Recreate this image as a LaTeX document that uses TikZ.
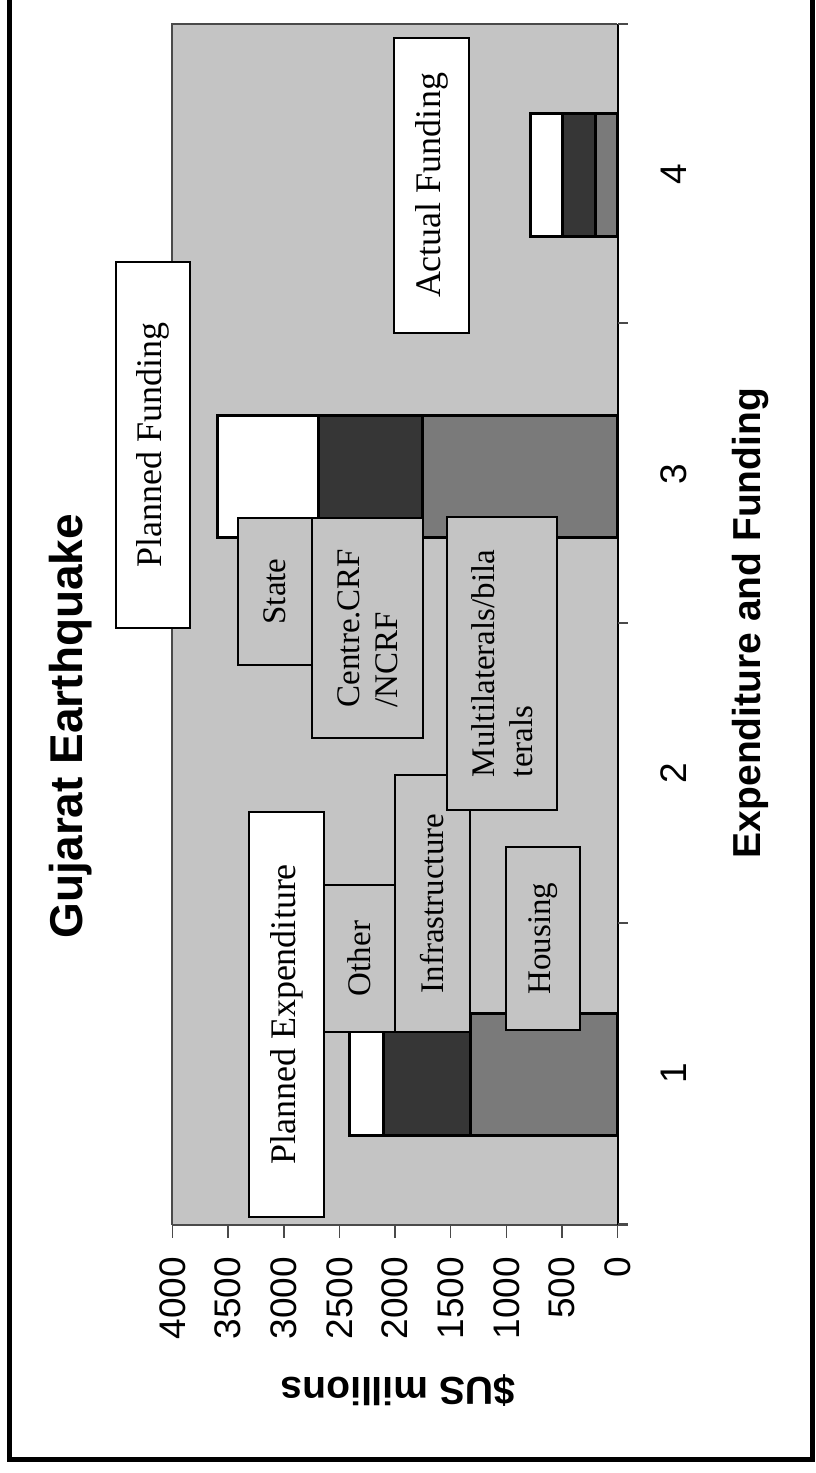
\documentclass[tikz,border=0pt]{standalone}
\usepackage{fontspec}
\setmainfont{Liberation Serif}
\newfontfamily\arialf{Liberation Sans}
\definecolor{plotbg}{HTML}{C4C4C4}
\definecolor{barmid}{HTML}{7A7A7A}
\definecolor{bardark}{HTML}{363636}
\definecolor{axisgray}{HTML}{4A4A4A}
\begin{document}
\begin{tikzpicture}[x=1pt,y=-1pt,
  lbl/.style={draw=black, line width=2.5pt, rotate=90, inner sep=0pt, align=left,
              font=\fontsize{33}{38}\selectfont, fill=plotbg},
  wlbl/.style={lbl, fill=white, font=\fontsize{36}{40}\selectfont},
  barline/.style={draw=black, line width=3pt},
  ticklbl/.style={rotate=90, inner sep=0pt, font=\arialf\fontsize{37}{40}\selectfont},
  axtitle/.style={rotate=90, inner sep=0pt, font=\arialf\bfseries\fontsize{39}{44}\selectfont},
  bigtitle/.style={rotate=90, inner sep=0pt, font=\arialf\bfseries\fontsize{46}{50}\selectfont}
]
\useasboundingbox (0,0) rectangle (816,1473);
% outer frame
\draw[line width=5pt] (9,-20) rectangle (812,1459);

% plot area
\fill[plotbg] (172,24) rectangle (617,1225);
\draw[axisgray, line width=2pt] (617,24) -- (172,24) -- (172,1225);
% value axis
\draw[axisgray, line width=2.5pt] (172,1225) -- (628,1225);
\foreach \vx in {172.5,228.1,283.8,339.4,395,450.6,506.3,561.9,617.5}
  \draw[axisgray, line width=1.5pt] (\vx,1225) -- (\vx,1238);
% category axis
\draw[black, line width=2pt] (617.5,24) -- (617.5,1225);
\foreach \cy in {24,323,623,923,1224}
  \draw[axisgray, line width=1.5pt] (617.5,\cy) -- (628,\cy);

% tick labels
\foreach \vx/\vl in {172.5/4000,228.1/3500,283.8/3000,339.4/2500,395/2000,450.6/1500,506.3/1000,561.9/500,617.5/0}
  \node[ticklbl, anchor=east] (t\vl) at (\vx,1257) {\vl};
\node[ticklbl] (c1) at (674,1073) {1};
\node[ticklbl] (c2) at (674,773) {2};
\node[ticklbl] (c3) at (674,474) {3};
\node[ticklbl] (c4) at (674,174) {4};

% axis titles
\node[axtitle] (xt) at (750,623) {Expenditure and Funding};
\node[rotate=180, inner sep=0pt, font=\arialf\bfseries\fontsize{39}{44}\selectfont] (yt) at (398,1391) {\$US millions};
\node[bigtitle] (title) at (71,726) {Gujarat Earthquake};

% bar 1
\fill[white] (349,1013) rectangle (383,1135);
\fill[bardark] (383,1013) rectangle (470,1135);
\fill[barmid] (470,1013) rectangle (617,1135);
\draw[barline] (349,1013) rectangle (617,1135);
\draw[barline] (383,1013) -- (383,1135);
\draw[barline] (470,1013) -- (470,1135);
% bar 3
\fill[white] (217,415) rectangle (318,537);
\fill[bardark] (318,415) rectangle (422,537);
\fill[barmid] (422,415) rectangle (617,537);
\draw[barline] (217,415) rectangle (617,537);
\draw[barline] (318,415) -- (318,537);
\draw[barline] (422,415) -- (422,537);
% bar 4
\fill[white] (530,113) rectangle (562,236);
\fill[bardark] (562,113) rectangle (595,236);
\fill[barmid] (595,113) rectangle (617,236);
\draw[barline] (530,113) rectangle (617,236);
\draw[barline] (562,113) -- (562,236);
\draw[barline] (595,113) -- (595,236);

% label boxes
\node[lbl, minimum width=257, minimum height=75] (infra) at (432.5,903.5) {Infrastructure};
\node[lbl, minimum width=147, minimum height=72] (other) at (359,958.5) {Other};
\node[lbl, minimum width=293, minimum height=110] (multi) at (502,663.5) {Multilaterals/bila\\terals};
\node[lbl, minimum width=147, minimum height=74] (state) at (275,591.5) {State};
\node[lbl, minimum width=220, minimum height=111] (centre) at (367.5,628) {Centre.CRF\\/NCRF};
\node[lbl, minimum width=183, minimum height=74] (housing) at (543,938.5) {Housing};

\node[wlbl, minimum width=295, minimum height=75] (actual) at (431.5,185.5) {Actual Funding};
\node[wlbl, minimum width=366, minimum height=74] (pfund) at (153,445) {Planned Funding};
\node[wlbl, minimum width=405, minimum height=75] (pexp) at (286.5,1014.5) {Planned Expenditure};
\end{tikzpicture}
\end{document}
